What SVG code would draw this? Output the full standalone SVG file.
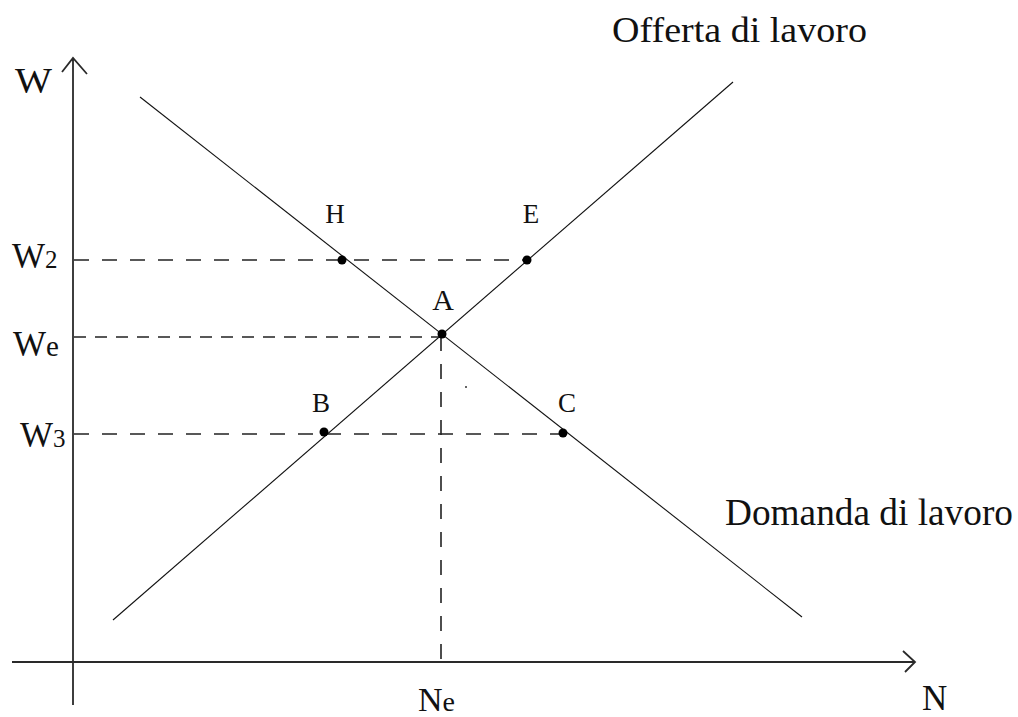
<svg xmlns="http://www.w3.org/2000/svg" width="1018" height="717" viewBox="0 0 1018 717">
<style>
.t{font-family:"Liberation Serif","Times New Roman",serif;fill:#111}
.axis{stroke:#2a2a2a;stroke-width:1.8;fill:none}
.curve{stroke:#111;stroke-width:1.1;fill:none}
.dash{stroke:#222;stroke-width:1.6;fill:none;stroke-dasharray:15 13}
.dashS{stroke:#222;stroke-width:1.6;fill:none;stroke-dasharray:12 9}
.pt{fill:#000}
.pl{font-size:27px;text-anchor:middle}
</style>
<rect width="1018" height="717" fill="#fff"/>
<g id="connectors">
  <path class="axis" d="M73 705 V58 M62 72 L73 58 L87 74"/>
  <path class="axis" d="M12 662 H915 M903 651 L915 662 L905 672"/>
  <line class="curve" x1="140" y1="97" x2="802" y2="617"/>
  <line class="curve" x1="113" y1="620" x2="733" y2="82"/>
  <line class="dash" x1="74" y1="260" x2="527" y2="260"/>
  <line class="dashS" x1="74" y1="337" x2="442" y2="337"/>
  <line class="dash" x1="74" y1="434" x2="563" y2="434"/>
  <line class="dash" x1="441" y1="336" x2="441" y2="662" stroke-dasharray="16 9"/>
</g>
<g id="axis-labels">
  <text class="t" x="15" y="93" font-size="35" textLength="37" lengthAdjust="spacingAndGlyphs">W</text>
  <text class="t" x="12" y="268" font-size="35">W<tspan font-size="25">2</tspan></text>
  <text class="t" x="13" y="356" font-size="35">W<tspan font-size="29">e</tspan></text>
  <text class="t" x="20" y="447" font-size="35">W<tspan font-size="25">3</tspan></text>
  <text class="t" x="418" y="711" font-size="34">N<tspan font-size="28">e</tspan></text>
  <text class="t" x="922" y="710" font-size="35">N</text>
</g>
<g id="curve-labels">
  <text class="t" x="612" y="42" font-size="36" textLength="255" lengthAdjust="spacingAndGlyphs">Offerta di lavoro</text>
  <text class="t" x="725" y="525" font-size="37" textLength="288" lengthAdjust="spacingAndGlyphs">Domanda di lavoro</text>
</g>
<g id="node-A"><circle class="pt" cx="442" cy="334" r="4.5"/><text class="t" x="443" y="310" font-size="30" text-anchor="middle">A</text></g>
<g id="node-H"><circle class="pt" cx="342" cy="260" r="4.5"/><text class="t pl" x="335" y="223">H</text></g>
<g id="node-E"><circle class="pt" cx="527" cy="260" r="4.5"/><text class="t pl" x="531" y="223">E</text></g>
<g id="node-B"><circle class="pt" cx="324" cy="432" r="4.5"/><text class="t pl" x="321" y="412">B</text></g>
<g id="node-C"><circle class="pt" cx="563" cy="433" r="4.5"/><text class="t pl" x="567" y="412">C</text></g>
<circle cx="466" cy="387" r="1" fill="#333"/>
</svg>
